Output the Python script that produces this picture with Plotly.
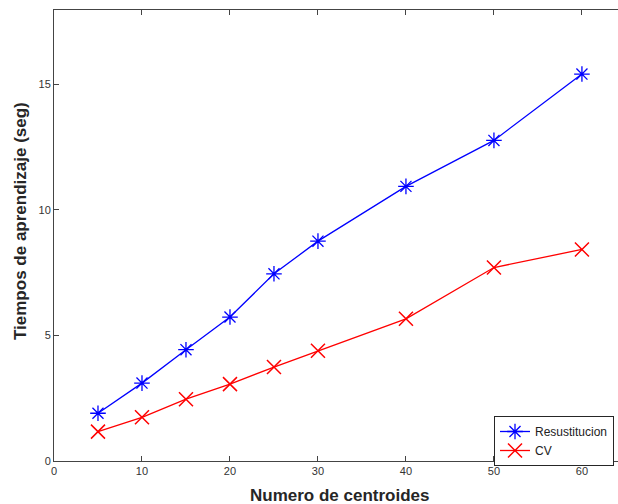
import plotly.graph_objects as go

centroides = [5, 10, 15, 20, 25, 30, 40, 50, 60]
resustitucion = [1.90, 3.10, 4.43, 5.73, 7.45, 8.75, 10.93, 12.76, 15.40]
cv = [1.17, 1.74, 2.46, 3.06, 3.74, 4.39, 5.66, 7.70, 8.42]

x_ticks = [0, 10, 20, 30, 40, 50, 60]
y_ticks = [0, 5, 10, 15]

W, H = 618, 504
L, T, B = 54, 10, 43

fig = go.Figure()
fig.add_trace(go.Scatter(
    x=centroides, y=resustitucion, name="Resustitucion",
    mode="lines+markers",
    line=dict(color="#0000ff", width=1.3),
    marker=dict(symbol="asterisk-open", size=13, color="#0000ff",
                line=dict(color="#0000ff", width=1.3)),
))
fig.add_trace(go.Scatter(
    x=centroides, y=cv, name="CV",
    mode="lines+markers",
    line=dict(color="#ff0000", width=1.3),
    marker=dict(symbol="x-thin-open", size=14, color="#ff0000",
                line=dict(color="#ff0000", width=1.5)),
))

axis_common = dict(
    showgrid=False, zeroline=False, showline=True, linecolor="#444444",
    linewidth=1, ticks="inside", ticklen=5, tickcolor="#444444",
    tickfont=dict(family="Liberation Sans, Arial, sans-serif", size=11, color="#333333"),
)

fig.update_layout(
    width=W, height=H,
    margin=dict(l=L, r=0, t=T, b=B, pad=0),
    paper_bgcolor="white", plot_bgcolor="white",
    xaxis=dict(range=[0, 64.1], tickvals=x_ticks, mirror="ticks", **axis_common),
    yaxis=dict(range=[0, 17.95], tickvals=y_ticks, mirror=False, **axis_common),
    showlegend=True,
    legend=dict(
        x=(494 - L) / (W - L), y=(H - B - 416) / (H - B - T), xanchor="left", yanchor="top",
        bgcolor="white", bordercolor="#262626", borderwidth=1,
        font=dict(family="Liberation Sans, Arial, sans-serif", size=12, color="#222222"),
        tracegroupgap=0, itemwidth=30,
    ),
    annotations=[
        dict(text="<b>Numero de centroides</b>", xref="paper", yref="paper",
             x=(340 - L) / (W - L), y=-(495 - (H - B)) / (H - B - T), xanchor="center", yanchor="middle",
             showarrow=False,
             font=dict(family="Liberation Sans, Arial, sans-serif", size=17, color="#262626")),
        dict(text="<b>Tiempos de aprendizaje (seg)</b>", xref="paper", yref="paper",
             x=-(L - 20) / (W - L), y=(H - B - 221) / (H - B - T), xanchor="center", yanchor="middle",
             textangle=-90, showarrow=False,
             font=dict(family="Liberation Sans, Arial, sans-serif", size=17, color="#262626")),
    ],
)

fig.write_html("out.html", config={"displayModeBar": False},
               post_script="document.body.style.margin='0';document.body.style.overflow='hidden';")
